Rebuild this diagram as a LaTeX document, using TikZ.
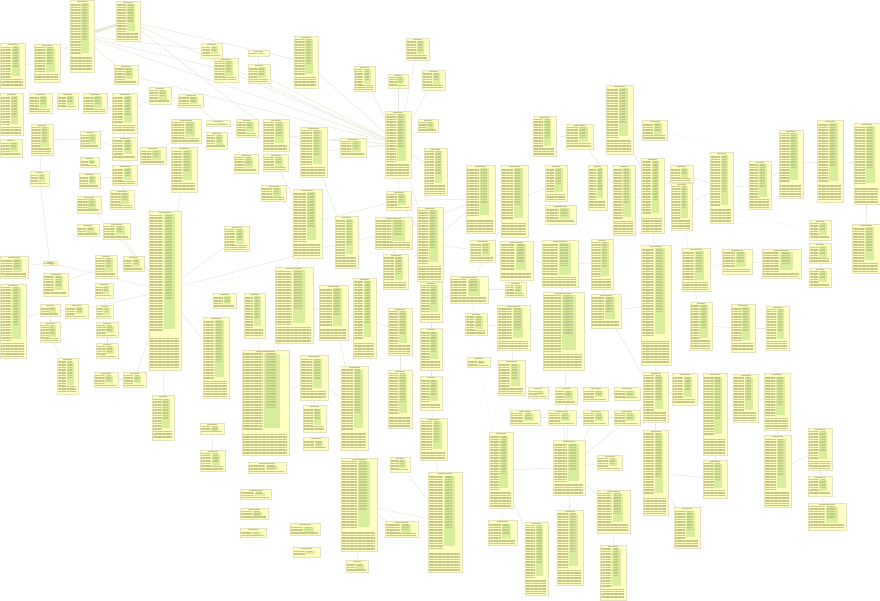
\documentclass[tikz,border=0pt]{standalone}
\usepackage{tikz}
\usetikzlibrary{patterns.meta,backgrounds}

\definecolor{boxfill}{RGB}{255,255,194}
\definecolor{boxline}{RGB}{226,226,190}
\definecolor{colfill}{RGB}{216,238,156}
\definecolor{txtcol}{RGB}{196,196,140}
\definecolor{lnk}{RGB}{232,232,218}

\tikzset{
  erbox/.style={draw=boxline, fill=boxfill, line width=0.6pt, anchor=north west,
    inner sep=0pt, outer sep=0pt},
  txtpat/.style={pattern={Lines[distance=1.6pt,line width=0.7pt]}, pattern color=txtcol},
  titleline/.style={draw=txtcol, line width=0.8pt},
  link/.style={draw=lnk, line width=0.55pt},
  dlink/.style={draw=lnk, line width=0.7pt, dotted},
  bus/.style={draw=lnk, line width=3pt}
}

% one table: name, x, y, width, height (px)
\newcommand{\erbox}[5]{%
  \begin{scope}[shift={(#2,#3)}]
    \node[erbox, minimum width=#4pt, minimum height=#5pt] (#1) at (0,0) {};
    \fill[colfill] (0.47*#4,3.5) rectangle (0.8*#4,0.74*#5);
    \fill[txtpat] (1.2,3.5) rectangle (0.44*#4,0.76*#5);
    \fill[txtpat] (0.5*#4,3.5) rectangle (0.72*#4,0.55*#5);
    \fill[txtpat] (1.2,0.8*#5) rectangle (#4-2,#5-1.5);
    \draw[titleline] (0.3*#4,1.6) -- (0.7*#4,1.6);
  \end{scope}}

\begin{document}
\begin{tikzpicture}[x=1pt, y=-1pt]
\useasboundingbox (0,0) rectangle (880,601);

% top left
\erbox{t1}{70}{0}{24}{72}
\erbox{t2}{116}{1}{24}{40}
\erbox{t3}{0}{43}{25}{45}
\erbox{t4}{34}{44}{26}{38}
\erbox{t5}{114}{65}{24}{19}
\erbox{t6}{201}{43}{21}{15}
\erbox{t7}{214}{58}{24}{24}
\erbox{t8}{0}{93}{23}{42}
\erbox{t9}{29}{93}{23}{20}
\erbox{t10}{57}{93}{21}{16}
\erbox{t11}{83}{93}{24}{20}
\erbox{t12}{112}{93}{25}{40}
\erbox{t13}{149}{87}{22}{17}
\erbox{t14}{178}{94}{25}{13}
\erbox{t15}{206}{120}{24}{6}
\erbox{t16}{0}{139}{22}{18}
\erbox{t17}{31}{124}{22}{31}
\erbox{t18}{80}{131}{20}{17}
\erbox{t19}{112}{137}{25}{23}
\erbox{t20}{140}{147}{26}{17}
\erbox{t21}{171}{119}{30}{24}
\erbox{t22}{171}{147}{26}{45}
\erbox{t23}{206}{132}{21}{17}
\erbox{t24}{30}{171}{19}{15}
\erbox{t25}{80}{157}{19}{10}
\erbox{t26}{79}{173}{21}{15}
\erbox{t27}{112}{165}{25}{20}
\erbox{t28}{110}{190}{24}{19}
\erbox{t29}{77}{196}{24}{17}
\erbox{t30}{77}{224}{22}{12}
\erbox{t31}{103}{223}{27}{16}
\erbox{t32}{149}{211}{32}{159}
\erbox{t33}{0}{256}{28}{22}
\erbox{t34}{43}{261}{14}{4}
\erbox{t35}{43}{273}{25}{23}
\erbox{t36}{95}{255}{22}{23}
\erbox{t37}{123}{256}{21}{15}

% top middle
\erbox{t38}{248}{50}{21}{6}
\erbox{t39}{248}{64}{22}{19}
\erbox{t40}{294}{36}{24}{52}
\erbox{t41}{406}{38}{23}{22}
\erbox{t42}{354}{66}{21}{25}
\erbox{t43}{388}{74}{20}{14}
\erbox{t44}{422}{70}{23}{20}
\erbox{t45}{236}{119}{22}{18}
\erbox{t46}{263}{119}{26}{32}
\erbox{t47}{300}{127}{27}{50}
\erbox{t48}{340}{138}{26}{19}
\erbox{t49}{385}{111}{26}{67}
\erbox{t50}{418}{119}{20}{13}
\erbox{t51}{424}{148}{23}{47}
\erbox{t52}{234}{154}{24}{19}
\erbox{t53}{263}{154}{25}{17}
\erbox{t54}{261}{185}{25}{16}
\erbox{t55}{293}{189}{29}{69}
\erbox{t56}{386}{191}{25}{19}
\erbox{t57}{224}{226}{25}{25}
\erbox{t58}{335}{216}{23}{52}
\erbox{t59}{375}{217}{37}{32}
\erbox{t60}{383}{254}{25}{35}
\erbox{t61}{417}{207}{26}{74}

% top right
\erbox{t62}{533}{116}{23}{40}
\erbox{t63}{566}{124}{27}{25}
\erbox{t64}{606}{85}{27}{69}
\erbox{t65}{642}{120}{25}{20}
\erbox{t66}{466}{165}{29}{68}
\erbox{t67}{501}{165}{27}{72}
\erbox{t68}{545}{165}{22}{36}
\erbox{t69}{545}{205}{31}{19}
\erbox{t70}{588}{165}{19}{45}
\erbox{t71}{613}{165}{22}{70}
\erbox{t72}{641}{158}{23}{75}
\erbox{t73}{470}{240}{25}{22}
\erbox{t74}{500}{241}{33}{39}
\erbox{t75}{542}{240}{36}{47}
\erbox{t76}{591}{239}{22}{50}
\erbox{t77}{670}{165}{23}{17}
\erbox{t78}{671}{183}{21}{47}
\erbox{t79}{710}{152}{23}{71}
\erbox{t80}{749}{161}{22}{48}
\erbox{t81}{779}{130}{24}{68}
\erbox{t82}{817}{120}{26}{82}
\erbox{t83}{854}{123}{26}{81}
\erbox{t84}{809}{220}{22}{20}
\erbox{t85}{809}{243}{22}{20}
\erbox{t86}{809}{268}{22}{19}
\erbox{t87}{852}{224}{28}{49}
\erbox{t88}{682}{248}{28}{43}
\erbox{t89}{722}{249}{30}{25}
\erbox{t90}{762}{249}{39}{29}

% bottom left
\erbox{t96}{0}{284}{26}{74}
\erbox{t97}{40}{304}{20}{12}
\erbox{t98}{65}{304}{23}{14}
\erbox{t99}{40}{322}{20}{20}
\erbox{t100}{57}{358}{21}{36}
\erbox{t101}{95}{283}{18}{15}
\erbox{t102}{96}{305}{17}{13}
\erbox{t103}{96}{322}{22}{15}
\erbox{t104}{96}{343}{22}{15}
\erbox{t105}{94}{372}{24}{15}
\erbox{t106}{123}{372}{23}{15}
\erbox{t107}{152}{395}{22}{45}
\erbox{t108}{203}{317}{26}{81}
\erbox{t109}{213}{293}{23}{15}
\erbox{t110}{200}{423}{24}{11}
\erbox{t111}{200}{450}{25}{21}

% bottom middle
\erbox{t112}{244}{293}{21}{45}
\erbox{t113}{275}{267}{38}{76}
\erbox{t114}{319}{285}{29}{55}
\erbox{t115}{242}{350}{47}{105}
\erbox{t116}{300}{355}{28}{45}
\erbox{t117}{303}{405}{23}{27}
\erbox{t118}{303}{437}{25}{13}
\erbox{t119}{248}{462}{38}{11}
\erbox{t120}{240}{489}{31}{10}
\erbox{t121}{240}{508}{28}{11}
\erbox{t122}{240}{528}{26}{9}
\erbox{t123}{290}{523}{30}{12}
\erbox{t124}{293}{547}{27}{10}
\erbox{t125}{341}{366}{27}{84}
\erbox{t126}{341}{458}{36}{93}
\erbox{t127}{346}{560}{22}{12}
\erbox{t128}{353}{278}{23}{80}
\erbox{t129}{388}{308}{24}{47}
\erbox{t130}{388}{370}{24}{58}
\erbox{t131}{390}{457}{20}{15}
\erbox{t132}{385}{521}{33}{16}
\erbox{t133}{420}{282}{22}{40}
\erbox{t134}{420}{328}{22}{42}
\erbox{t135}{420}{376}{22}{34}
\erbox{t136}{420}{418}{27}{42}
\erbox{t137}{428}{472}{34}{100}

% bottom right
\erbox{t91}{641}{245}{30}{120}
\erbox{t92}{450}{276}{38}{27}
\erbox{t93}{505}{282}{21}{15}
\erbox{t94}{543}{292}{41}{78}
\erbox{t95}{591}{294}{30}{34}
\erbox{t138}{465}{313}{22}{22}
\erbox{t139}{467}{357}{23}{10}
\erbox{t140}{497}{305}{33}{45}
\erbox{t141}{498}{360}{27}{35}
\erbox{t142}{528}{387}{20}{11}
\erbox{t143}{555}{387}{22}{17}
\erbox{t144}{583}{387}{25}{14}
\erbox{t145}{614}{387}{26}{13}
\erbox{t146}{510}{410}{30}{15}
\erbox{t147}{548}{410}{28}{15}
\erbox{t148}{583}{410}{25}{15}
\erbox{t149}{614}{410}{26}{15}
\erbox{t150}{489}{432}{24}{76}
\erbox{t151}{553}{440}{32}{55}
\erbox{t152}{597}{455}{25}{15}
\erbox{t153}{643}{372}{25}{50}
\erbox{t154}{643}{430}{25}{85}
\erbox{t155}{672}{373}{25}{32}
\erbox{t156}{703}{373}{24}{82}
\erbox{t157}{733}{374}{25}{48}
\erbox{t158}{764}{373}{26}{57}
\erbox{t159}{690}{302}{22}{48}
\erbox{t160}{731}{304}{24}{48}
\erbox{t161}{766}{306}{23}{44}
\erbox{t162}{674}{507}{26}{41}
\erbox{t163}{703}{460}{24}{38}
\erbox{t164}{764}{435}{27}{72}
\erbox{t165}{808}{428}{24}{42}
\erbox{t166}{808}{476}{24}{20}
\erbox{t167}{808}{503}{38}{27}
\erbox{t168}{597}{490}{33}{43}
\erbox{t169}{557}{510}{26}{75}
\erbox{t170}{525}{522}{23}{73}
\erbox{t171}{488}{520}{29}{25}
\erbox{t172}{600}{545}{26}{55}

% connectors
\begin{scope}[on background layer]
\draw[bus] (t1) -- (t2);
\foreach \a/\b in {t1/t5, t1/t49, t2/t49, t1/t6, t1/t7, t2/t40, t2/t46, t5/t49,
  t7/t49, t39/t49, t40/t49, t42/t49, t46/t49, t21/t49, t47/t49, t48/t49, t41/t49,
  t44/t49, t43/t49, t50/t49, t51/t49, t3/t4, t4/t1, t3/t8, t8/t9, t9/t10, t10/t11,
  t11/t12, t12/t13, t13/t14, t14/t15, t12/t19, t8/t16, t17/t24, t24/t34, t34/t33,
  t34/t32, t17/t18, t18/t19, t19/t20, t20/t21, t21/t22, t22/t32, t26/t27, t27/t28,
  t29/t32, t31/t32, t30/t31, t36/t37, t35/t36, t33/t96, t15/t45, t45/t46, t46/t47,
  t52/t53, t53/t55, t54/t55, t55/t56, t56/t61, t47/t58, t57/t32, t58/t59, t59/t60,
  t60/t61, t49/t61, t49/t56, t32/t58, t6/t7, t38/t39, t61/t66, t56/t66, t66/t67,
  t67/t68, t62/t63, t63/t71, t64/t72, t71/t72, t72/t77, t78/t79, t77/t79, t79/t80,
  t80/t81, t81/t82, t82/t83, t83/t87, t84/t85, t85/t86, t88/t89, t89/t90, t72/t91,
  t78/t159, t91/t153, t153/t154, t61/t73, t73/t74, t74/t75, t75/t76, t69/t68,
  t70/t71, t67/t92, t92/t93, t75/t94, t76/t95, t61/t133, t133/t134, t134/t135,
  t135/t136, t136/t137, t128/t129, t129/t130, t125/t116, t125/t126, t113/t114,
  t112/t115, t115/t116, t116/t117, t117/t118, t114/t125, t126/t132, t126/t137,
  t127/t126, t131/t137, t108/t109, t108/t32, t107/t32, t110/t111, t100/t99,
  t99/t97, t97/t98, t98/t32, t96/t97, t103/t104, t102/t103, t101/t102, t105/t106,
  t106/t32, t140/t141, t138/t140, t141/t142, t142/t143, t143/t144, t144/t145,
  t146/t147, t147/t148, t148/t149, t150/t151, t151/t152, t151/t147, t151/t148,
  t151/t153, t151/t168, t168/t172, t169/t151, t170/t150, t171/t150, t154/t162,
  t154/t163, t153/t155, t155/t156, t156/t157, t157/t158, t159/t160, t160/t161,
  t158/t164, t164/t165, t165/t166, t166/t167, t156/t163, t94/t151, t95/t153,
  t91/t95, t94/t140, t92/t138, t133/t92, t59/t66, t55/t115, t113/t128}
  \draw[link] (\a) -- (\b);
\foreach \a/\b in {t65/t81, t78/t84, t137/t150, t132/t137, t32/t61, t111/t115,
  t119/t115, t123/t126, t139/t150, t145/t153}
  \draw[dlink] (\a) -- (\b);
\end{scope}
\end{tikzpicture}
\end{document}
